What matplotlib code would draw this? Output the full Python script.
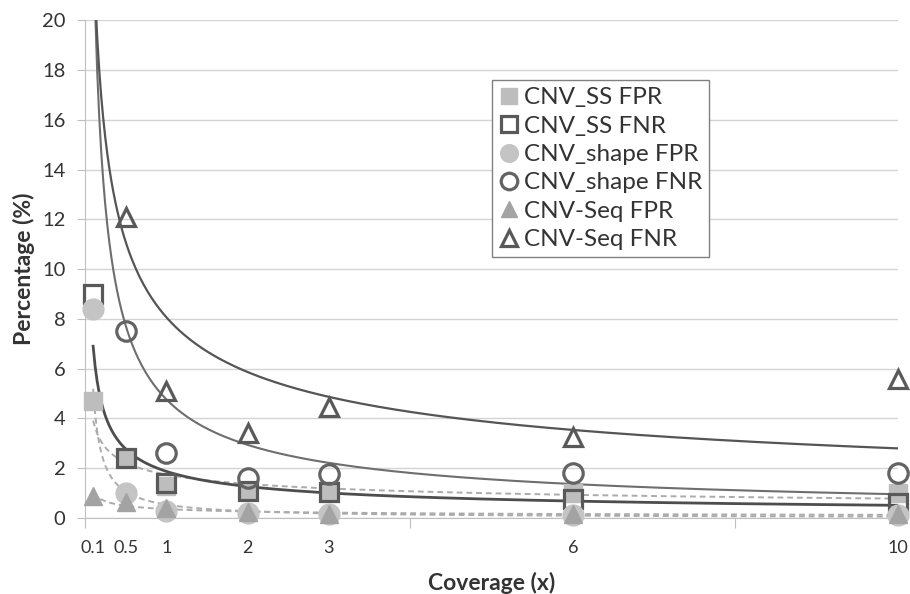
import numpy as np
import matplotlib
matplotlib.use("Agg")
import matplotlib.pyplot as plt

plt.rcParams['font.family'] = ['Lato', 'DejaVu Sans']

# coverage levels (x) and error rates (%)
coverage = [0.1, 0.5, 1, 2, 3, 6, 10]
coverage_labels = ['0.1', '0.5', '1', '2', '3', '6', '10']

ss_fpr = [4.7, 2.4, 1.3, 1.1, 1.1, 1.0, 1.0]
ss_fnr = [9.0, 2.4, 1.4, 1.1, 1.05, 0.75, 0.6]
shape_fpr = [8.4, 1.0, 0.3, 0.2, 0.15, 0.1, 0.1]
shape_fnr = [42.0, 7.5, 2.6, 1.6, 1.75, 1.8, 1.8]   # 0.1x point is above the plot
seq_fpr = [0.9, 0.65, 0.4, 0.25, 0.15, 0.15, 0.15]
seq_fnr = [34.6, 12.1, 5.1, 3.4, 4.45, 3.25, 5.6]   # 0.1x point is above the plot

series_names = ['CNV_SS FPR', 'CNV_SS FNR', 'CNV_shape FPR',
                'CNV_shape FNR', 'CNV-Seq FPR', 'CNV-Seq FNR']
series_values = [ss_fpr, ss_fnr, shape_fpr, shape_fnr, seq_fpr, seq_fnr]

y_max = 20

# marker style per series
styles = [
    dict(marker='s', ms=13, mfc='#BDBDBD', mec='#BDBDBD', mew=1),
    dict(marker='s', ms=13, mfc='none', mec='#595959', mew=2.3),
    dict(marker='o', ms=15, mfc='#C4C4C4', mec='#C4C4C4', mew=1),
    dict(marker='o', ms=14, mfc='none', mec='#636363', mew=2.3),
    dict(marker='^', ms=13, mfc='#A3A3A3', mec='#A3A3A3', mew=1),
    dict(marker='^', ms=13, mfc='none', mec='#595959', mew=2.3),
]
# power trendline style per series
trend_styles = [
    dict(color='#ABABAB', lw=1.4, ls=(0, (3, 2))),
    dict(color='#4D4D4D', lw=2.0, ls='-'),
    dict(color='#ABABAB', lw=1.4, ls=(0, (3, 2))),
    dict(color='#6E6E6E', lw=1.5, ls='-'),
    dict(color='#ABABAB', lw=1.4, ls=(0, (3, 2))),
    dict(color='#555555', lw=1.6, ls='-'),
]

fig = plt.figure(figsize=(9.1, 5.94), dpi=100)
ax = fig.add_axes([0.0934, 0.128, 0.8934, 0.838])

x = np.array(coverage, dtype=float)
xs = np.linspace(x.min(), x.max(), 400)
for vals, ts in zip(series_values, trend_styles):
    b, c = np.polyfit(np.log(x), np.log(np.array(vals)), 1)
    ax.plot(xs, np.exp(c) * xs ** b, zorder=2, **ts)

for name, vals, st in zip(series_names, series_values, styles):
    v = np.array(vals, dtype=float)
    v = np.where(v <= y_max, v, np.nan)   # off-scale points are not shown
    ax.plot(coverage, v, ls='none', label=name, zorder=3, clip_on=False, **st)

ax.set_xlim(0, 10)
ax.set_ylim(0, y_max)
ax.set_yticks(np.arange(0, 21, 2))
ax.set_xticks([0, 4, 8])
ax.set_xticklabels([])
ax.set_xticks(coverage, minor=True)
ax.set_xticklabels(coverage_labels, minor=True)
ax.tick_params(axis='x', which='major', length=7, color='#BFBFBF', direction='out')
ax.tick_params(axis='x', which='minor', length=0, pad=16, labelsize=13, labelcolor='#333333')
ax.tick_params(axis='y', length=6, color='#BFBFBF', pad=8, labelsize=14.5, labelcolor='#333333')

ax.grid(axis='y', color='#D4D4D4', lw=1)
ax.set_axisbelow(True)
for side in ['top', 'right']:
    ax.spines[side].set_visible(False)
for side in ['left', 'bottom']:
    ax.spines[side].set_color('#BFBFBF')

ax.set_ylabel('Percentage (%)', fontsize=16.5, fontweight='bold', color='#333333', labelpad=5)
ax.set_xlabel('Coverage (x)', fontsize=16.5, fontweight='bold', color='#333333', labelpad=11)

leg = ax.legend(loc='upper left', bbox_to_anchor=(0.5006, 0.8795), fontsize=17.5,
                frameon=True, fancybox=False, edgecolor='#808080', framealpha=1,
                borderaxespad=0, handlelength=0.8, handletextpad=0.2, borderpad=0.3,
                labelspacing=0.3, markerscale=0.85)
leg.get_frame().set_linewidth(1)
for t in leg.get_texts():
    t.set_color('#333333')

fig.savefig('out.png', dpi=100)
